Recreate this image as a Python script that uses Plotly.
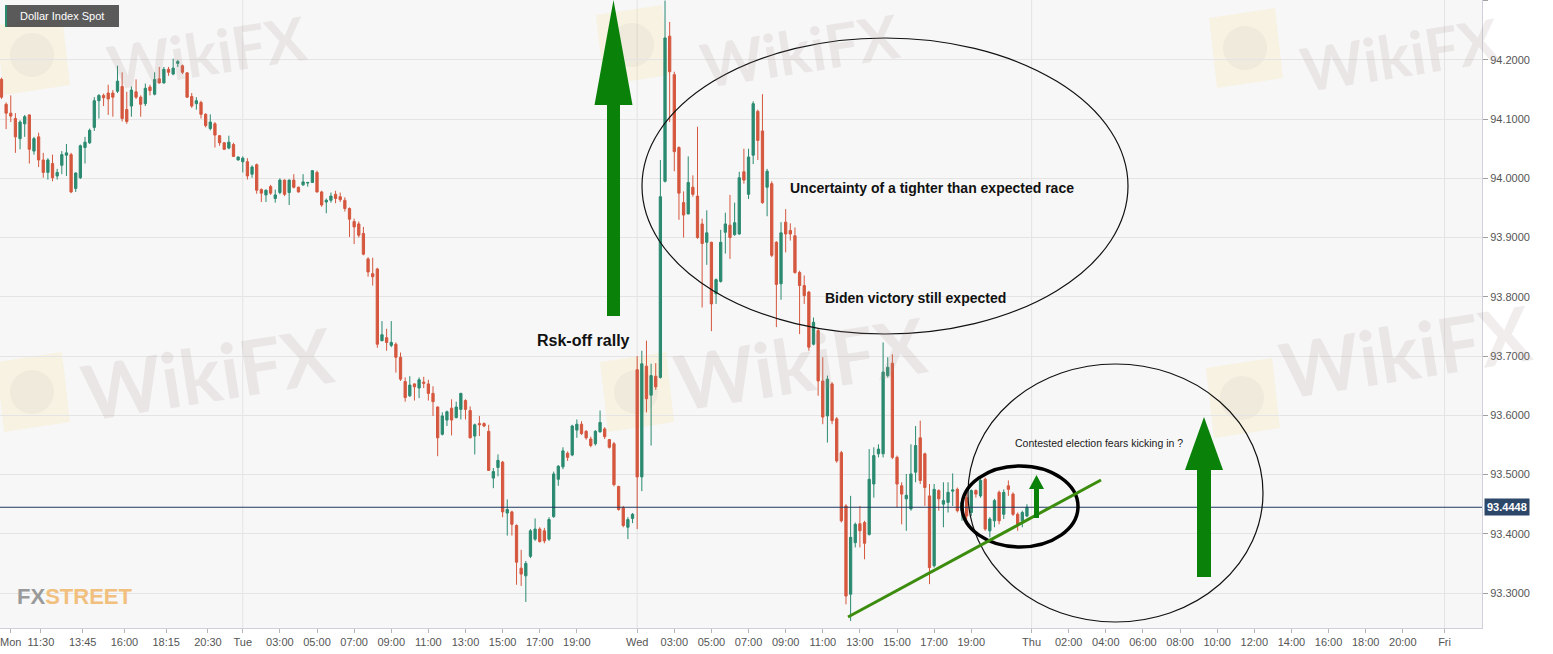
import plotly.graph_objects as go

# ---------------- data (15-minute candles) ----------------
opens = [94.167, 94.125, 94.110, 94.101, 94.067, 94.092, 94.107, 94.046, 94.070, 94.031,
         94.010, 94.025, 94.004, 94.022, 94.039, 94.040, 93.983, 94.001, 94.052, 94.060,
         94.086, 94.131, 94.140, 94.144, 94.144, 94.147, 94.155, 94.116, 94.122, 94.146,
         94.137, 94.126, 94.154, 94.142, 94.168, 94.161, 94.184, 94.176, 94.194, 94.190,
         94.178, 94.138, 94.126, 94.128, 94.108, 94.084, 94.092, 94.072, 94.060, 94.051,
         94.057, 94.031, 94.028, 94.028, 94.007, 94.023,
         93.981, 93.972, 93.986, 93.966, 93.976, 93.997, 93.976, 93.997, 93.985, 93.989,
         93.992, 93.993, 94.010, 93.977, 93.960, 93.963, 93.973, 93.969, 93.963, 93.949,
         93.927, 93.923, 93.907, 93.864, 93.839, 93.847, 93.726, 93.731, 93.718, 93.720,
         93.698, 93.657, 93.633, 93.653, 93.646, 93.656, 93.653, 93.637, 93.614, 93.568,
         93.592, 93.612, 93.596, 93.610, 93.625, 93.608, 93.565, 93.586, 93.586, 93.573,
         93.494, 93.512, 93.521, 93.435, 93.437, 93.414, 93.342, 93.329, 93.362,
         93.391, 93.408, 93.405, 93.391, 93.429, 93.492, 93.513, 93.536, 93.533, 93.575,
         93.585, 93.573, 93.560, 93.552, 93.572, 93.577, 93.559, 93.552, 93.480, 93.444,
         93.411, 93.426,
         93.677, 93.496, 93.683, 93.634, 93.666, 93.664, 93.995, 94.240, 94.175, 94.052,
         93.959, 93.940, 93.985, 93.970, 93.923, 93.892, 93.892, 93.805, 93.826, 93.909,
         93.921, 93.905, 93.906, 94.011, 93.973, 94.039, 94.113, 94.080, 93.985, 93.991,
         93.892, 93.822,
         93.926, 93.912, 93.903, 93.841, 93.819, 93.808, 93.720, 93.743, 93.658, 93.599,
         93.653, 93.594, 93.537, 93.447, 93.298, 93.385, 93.417, 93.419, 93.399, 93.484,
         93.535, 93.535, 93.667, 93.688, 93.529, 93.481, 93.459, 93.442, 93.504, 93.562,
         93.535, 93.464, 93.346, 93.473, 93.450, 93.453, 93.472, 93.475, 93.439, 93.461,
         93.436, 93.473, 93.464, 93.492, 93.405, 93.422, 93.470, 93.433, 93.481, 93.467,
         93.433, 93.422, 93.430]

highs = [94.170, 94.128, 94.140, 94.110, 94.098, 94.107, 94.108, 94.070, 94.077, 94.043,
         94.034, 94.040, 94.016, 94.046, 94.058, 94.043, 94.010, 94.057, 94.070, 94.084,
         94.137, 94.142, 94.143, 94.158, 94.149, 94.190, 94.179, 94.146, 94.155, 94.167,
         94.140, 94.160, 94.158, 94.179, 94.188, 94.188, 94.188, 94.202, 94.200, 94.192,
         94.179, 94.144, 94.137, 94.131, 94.110, 94.108, 94.095, 94.073, 94.061, 94.072,
         94.060, 94.037, 94.037, 94.034, 94.022, 94.025,
         93.983, 93.981, 93.989, 93.981, 94.000, 93.998, 93.998, 94.007, 93.986, 94.007,
         93.994, 94.014, 94.013, 93.979, 93.966, 93.976, 93.979, 93.976, 93.968, 93.951,
         93.932, 93.927, 93.918, 93.867, 93.866, 93.849, 93.759, 93.746, 93.759, 93.723,
         93.706, 93.664, 93.666, 93.654, 93.664, 93.665, 93.660, 93.649, 93.615, 93.605,
         93.608, 93.627, 93.623, 93.638, 93.627, 93.615, 93.586, 93.599, 93.588, 93.584,
         93.511, 93.534, 93.523, 93.458, 93.439, 93.416, 93.373, 93.354, 93.408,
         93.426, 93.411, 93.410, 93.428, 93.505, 93.516, 93.546, 93.539, 93.584, 93.593,
         93.590, 93.575, 93.564, 93.575, 93.608, 93.580, 93.560, 93.555, 93.481, 93.447,
         93.428, 93.435,
         93.700, 93.709, 93.726, 93.687, 93.688, 94.031, 94.300, 94.264, 94.180, 94.054,
         93.978, 94.037, 94.005, 94.087, 93.932, 93.946, 93.893, 93.831, 93.913, 93.942,
         93.972, 93.959, 94.011, 94.050, 94.050, 94.130, 94.116, 94.142, 94.016, 93.995,
         93.894, 93.926,
         93.948, 93.924, 93.917, 93.844, 93.836, 93.810, 93.765, 93.746, 93.698, 93.667,
         93.656, 93.597, 93.540, 93.450, 93.464, 93.419, 93.447, 93.422, 93.543, 93.546,
         93.551, 93.723, 93.698, 93.703, 93.532, 93.487, 93.501, 93.551, 93.582, 93.591,
         93.537, 93.484, 93.484, 93.475, 93.487, 93.487, 93.502, 93.478, 93.456, 93.470,
         93.475, 93.475, 93.495, 93.495, 93.428, 93.459, 93.473, 93.475, 93.490, 93.470,
         93.436, 93.439, 93.450]

lows = [94.134, 94.083, 94.095, 94.043, 94.049, 94.070, 94.025, 94.040, 94.019, 94.001,
        93.998, 93.995, 93.998, 94.007, 94.004, 93.975, 93.977, 93.999, 94.025, 94.058,
        94.080, 94.101, 94.122, 94.107, 94.104, 94.144, 94.096, 94.092, 94.104, 94.134,
        94.104, 94.122, 94.140, 94.140, 94.160, 94.160, 94.173, 94.174, 94.188, 94.176,
        94.136, 94.119, 94.116, 94.101, 94.086, 94.081, 94.052, 94.055, 94.048, 94.049,
        94.036, 94.030, 94.010, 93.998, 94.001, 93.974,
        93.960, 93.960, 93.972, 93.959, 93.973, 93.970, 93.955, 93.983, 93.976, 93.987,
        93.986, 93.992, 93.976, 93.952, 93.941, 93.959, 93.958, 93.960, 93.944, 93.901,
        93.889, 93.900, 93.870, 93.834, 93.819, 93.714, 93.725, 93.709, 93.715, 93.672,
        93.658, 93.623, 93.631, 93.625, 93.629, 93.646, 93.625, 93.599, 93.531, 93.566,
        93.582, 93.566, 93.595, 93.593, 93.593, 93.561, 93.534, 93.565, 93.580, 93.506,
        93.477, 93.497, 93.428, 93.397, 93.397, 93.314, 93.312, 93.285, 93.359,
        93.388, 93.385, 93.384, 93.388, 93.427, 93.481, 93.509, 93.523, 93.531, 93.562,
        93.567, 93.559, 93.546, 93.549, 93.571, 93.560, 93.544, 93.480, 93.439, 93.411,
        93.391, 93.418,
        93.408, 93.472, 93.605, 93.549, 93.643, 93.662, 93.993, 94.095, 94.012, 93.930,
        93.900, 93.939, 93.969, 93.898, 93.782, 93.854, 93.742, 93.788, 93.824, 93.873,
        93.864, 93.903, 93.905, 93.991, 93.965, 94.024, 94.031, 93.957, 93.936, 93.867,
        93.749, 93.795,
        93.875, 93.895, 93.839, 93.737, 93.788, 93.709, 93.718, 93.633, 93.585, 93.554,
        93.585, 93.520, 93.419, 93.281, 93.253, 93.377, 93.377, 93.357, 93.397, 93.461,
        93.529, 93.529, 93.664, 93.526, 93.444, 93.416, 93.405, 93.439, 93.487, 93.484,
        93.447, 93.315, 93.343, 93.439, 93.411, 93.436, 93.447, 93.436, 93.422, 93.422,
        93.430, 93.461, 93.461, 93.405, 93.394, 93.411, 93.416, 93.425, 93.464, 93.430,
        93.405, 93.411, 93.428]

closes = [94.137, 94.110, 94.105, 94.070, 94.095, 94.104, 94.049, 94.067, 94.031, 94.010,
          94.031, 94.001, 94.010, 94.040, 94.043, 93.977, 94.009, 94.055, 94.061, 94.081,
          94.131, 94.140, 94.136, 94.134, 94.137, 94.164, 94.101, 94.096, 94.149, 94.137,
          94.125, 94.152, 94.148, 94.167, 94.161, 94.184, 94.179, 94.186, 94.197, 94.179,
          94.137, 94.122, 94.131, 94.108, 94.089, 94.095, 94.073, 94.060, 94.049, 94.061,
          94.037, 94.036, 94.034, 94.004, 94.019, 93.980,
          93.975, 93.980, 93.975, 93.972, 93.997, 93.973, 93.997, 93.985, 93.977, 93.994,
          93.993, 94.013, 93.977, 93.955, 93.963, 93.970, 93.966, 93.964, 93.949, 93.931,
          93.918, 93.904, 93.872, 93.842, 93.834, 93.720, 93.736, 93.723, 93.723, 93.698,
          93.661, 93.630, 93.651, 93.648, 93.660, 93.654, 93.637, 93.623, 93.562, 93.599,
          93.606, 93.592, 93.614, 93.637, 93.610, 93.562, 93.584, 93.584, 93.582, 93.507,
          93.505, 93.524, 93.437, 93.441, 93.416, 93.352, 93.332, 93.350, 93.405,
          93.408, 93.387, 93.388, 93.424, 93.501, 93.514, 93.540, 93.529, 93.582, 93.585,
          93.569, 93.562, 93.549, 93.573, 93.588, 93.564, 93.546, 93.483, 93.441, 93.414,
          93.424, 93.433,
          93.496, 93.687, 93.628, 93.667, 93.648, 93.969, 94.237, 94.180, 94.045, 93.975,
          93.938, 93.993, 93.973, 93.900, 93.890, 93.908, 93.788, 93.829, 93.892, 93.923,
          93.900, 93.925, 94.001, 93.997, 94.036, 94.126, 94.064, 93.959, 94.012, 93.870,
          93.821, 93.908,
          93.906, 93.906, 93.841, 93.819, 93.802, 93.715, 93.757, 93.658, 93.597, 93.661,
          93.591, 93.523, 93.422, 93.295, 93.394, 93.416, 93.405, 93.384, 93.492, 93.532,
          93.543, 93.673, 93.681, 93.529, 93.484, 93.467, 93.465, 93.501, 93.549, 93.490,
          93.478, 93.343, 93.475, 93.459, 93.456, 93.470, 93.474, 93.439, 93.453, 93.430,
          93.473, 93.467, 93.490, 93.408, 93.425, 93.456, 93.422, 93.470, 93.475, 93.433,
          93.416, 93.436, 93.4448]

tick_labels = ["Mon", "11:30", "13:45", "16:00", "18:15", "20:30", "Tue", "03:00", "05:00",
               "07:00", "09:00", "11:00", "13:00", "15:00", "17:00", "19:00", "Wed", "03:00",
               "05:00", "07:00", "09:00", "11:00", "13:00", "15:00", "17:00", "19:00", "Thu",
               "02:00", "04:00", "06:00", "08:00", "10:00", "12:00", "14:00", "16:00", "18:00",
               "20:00", "Fri"]
tick_pos = [2, 8.5, 17.5, 26.5, 35.5, 44.5, 52, 60, 68, 76, 84, 92, 100, 108, 116, 124,
            137, 145, 153, 161, 169, 177, 185, 193, 201, 209, 222, 230, 238, 246, 254, 262,
            270, 278, 286, 294, 302, 311]
day_pos = [52, 137, 222, 311]

candle_idx = list(range(len(closes)))

# ---------------- helpers for decorations (pixel -> paper) ----------------
PW, PH = 1482, 628


def px(x):
    return x / PW


def py(y):
    return 1 - y / PH


def poly(points):
    return "M " + " L ".join(f"{px(a):.5f},{py(b):.5f}" for a, b in points) + " Z"


def up_arrow(xc, shaft_w, head_w, y_bottom, y_head, y_tip):
    s, h = shaft_w / 2, head_w / 2
    return poly([(xc - s, y_bottom), (xc + s, y_bottom), (xc + s, y_head), (xc + h, y_head),
                 (xc, y_tip), (xc - h, y_head), (xc - s, y_head)])


GREEN_UP = "#2a8a70"
RED_DN = "#d5573e"

fig = go.Figure()
fig.add_trace(go.Candlestick(
    x=candle_idx, open=opens, high=highs, low=lows, close=closes,
    increasing=dict(line=dict(color=GREEN_UP, width=1), fillcolor=GREEN_UP),
    decreasing=dict(line=dict(color=RED_DN, width=1), fillcolor=RED_DN),
    whiskerwidth=0, showlegend=False, hoverinfo="skip"))

shapes = []
# day separators
for d in day_pos:
    shapes.append(dict(type="line", xref="x", yref="paper", x0=d, x1=d, y0=0, y1=1,
                       line=dict(color="#e3e3e3", width=1), layer="below"))

# watermark logos (faint)
wm_logos = [(32, 55), (632, 45), (1245, 48), (32, 392), (636, 392), (1242, 398)]
for (cx, cy) in wm_logos:
    pts = [(cx - 36, cy - 30), (cx + 30, cy - 40), (cx + 38, cy + 30), (cx - 28, cy + 40)]
    shapes.append(dict(type="path", xref="paper", yref="paper", path=poly(pts),
                       fillcolor="rgba(250,215,120,0.16)", line=dict(width=0), layer="below"))
    shapes.append(dict(type="circle", xref="paper", yref="paper",
                       x0=px(cx - 22), x1=px(cx + 22), y0=py(cy + 22), y1=py(cy - 22),
                       fillcolor="rgba(150,140,140,0.08)", line=dict(width=0), layer="below"))

# current price line
shapes.append(dict(type="line", xref="paper", yref="y", x0=0, x1=1,
                   y0=closes[-1], y1=closes[-1], line=dict(color="#1f3a62", width=1)))

# big ellipse
shapes.append(dict(type="circle", xref="paper", yref="paper",
                   x0=px(642), x1=px(1128), y0=py(334), y1=py(38),
                   line=dict(color="#111111", width=1.2)))
# right ellipse
shapes.append(dict(type="circle", xref="paper", yref="paper",
                   x0=px(968), x1=px(1263), y0=py(622), y1=py(364),
                   line=dict(color="#111111", width=1.2)))
# small thick ellipse
shapes.append(dict(type="circle", xref="paper", yref="paper",
                   x0=px(962), x1=px(1078), y0=py(547), y1=py(466),
                   line=dict(color="#000000", width=3.5)))
# trend line
shapes.append(dict(type="line", xref="paper", yref="paper",
                   x0=px(848), y0=py(617), x1=px(1101), y1=py(480),
                   line=dict(color="#3c8c0e", width=3)))
# arrows
ARROW = "#0a820a"
for path in [up_arrow(613.5, 13, 38, 316, 105, 0),
             up_arrow(1204, 14, 38, 577, 470, 417),
             up_arrow(1036.5, 5, 15, 518, 489, 475)]:
    shapes.append(dict(type="path", xref="paper", yref="paper", path=path,
                       fillcolor=ARROW, line=dict(width=0)))

# title box
shapes.append(dict(type="rect", xref="paper", yref="paper",
                   x0=px(5), x1=px(119), y0=py(27), y1=py(5),
                   fillcolor="rgba(62,62,62,0.85)", line=dict(width=0)))
shapes.append(dict(type="rect", xref="paper", yref="paper",
                   x0=px(5), x1=px(7), y0=py(27), y1=py(5),
                   fillcolor="#2a8a70", line=dict(width=0)))

annotations = []
# watermark texts
for (cx, cy, sz) in [(207, 52, 60), (800, 50, 60), (1400, 54, 60),
                     (207, 372, 76), (800, 362, 76), (1405, 350, 76)]:
    annotations.append(dict(xref="paper", yref="paper", x=px(cx), y=py(cy), text="WikiFX",
                            xanchor="center", yanchor="middle",
                            showarrow=False, textangle=-9,
                            font=dict(family="Lato, Noto Sans, sans-serif", size=sz,
                                      color="rgba(160,140,135,0.16)", weight="bold")))

BOLD = "Liberation Sans, Arial, sans-serif"


def label(x, y, text, size, color="#111111", family=BOLD, xanchor="center"):
    return dict(xref="paper", yref="paper", x=px(x), y=py(y), text=text,
                xanchor=xanchor, yanchor="middle", showarrow=False,
                font=dict(family=family, size=size, color=color))


annotations += [
    label(62, 16, "Dollar Index Spot", 11, "#ffffff"),
    label(583, 340, "<b>Rsk-off rally</b>", 16),
    label(932, 188, "<b>Uncertainty of a tighter than expected race</b>", 14),
    label(915, 298, "<b>Biden victory still expected</b>", 14),
    label(1099, 443, "Contested election fears kicking in ?", 10.5, "#1a1a1a"),
    label(15, 596, "<b><span style='color:#9a9a9a'>FX</span>"
                   "<span style='color:#f1c07e'>STREET</span></b>", 22, xanchor="left"),
    dict(xref="paper", yref="y", x=1, y=closes[-1], xanchor="left", yanchor="middle",
         xshift=2, text=f"<b>{closes[-1]:.4f}</b>", showarrow=False, bgcolor="#2d4769",
         borderpad=2, font=dict(family=BOLD, size=11, color="#ffffff")),
]

fig.update_layout(
    width=1553, height=654,
    margin=dict(l=0, r=1553 - PW, t=0, b=654 - PH, autoexpand=False),
    paper_bgcolor="#ffffff", plot_bgcolor="#f7f7f7",
    font=dict(family=BOLD, size=11, color="#555555"),
    shapes=shapes, annotations=annotations,
    xaxis=dict(range=[-0.32, 319.07], tickvals=tick_pos, ticktext=tick_labels,
               showgrid=False, zeroline=False, ticks="outside", ticklen=4,
               tickcolor="#b5b5b5", tickfont=dict(size=11, color="#555555"),
               showline=True, linecolor="#cfd0dc", mirror=True,
               rangeslider=dict(visible=False)),
    yaxis=dict(side="right", range=[93.241, 94.301], dtick=0.1, tick0=93.3,
               tickformat=".4f", showgrid=True, gridcolor="#e4e4e4", zeroline=False,
               ticks="outside", ticklen=5, tickcolor="#a0a0a0",
               tickfont=dict(size=11, color="#555555"),
               showline=True, linecolor="#cfd0dc", mirror=True),
)

fig.write_html("out.html", config={"displayModeBar": False},
               post_script="document.body.style.margin='0px';document.body.style.padding='0px';")
